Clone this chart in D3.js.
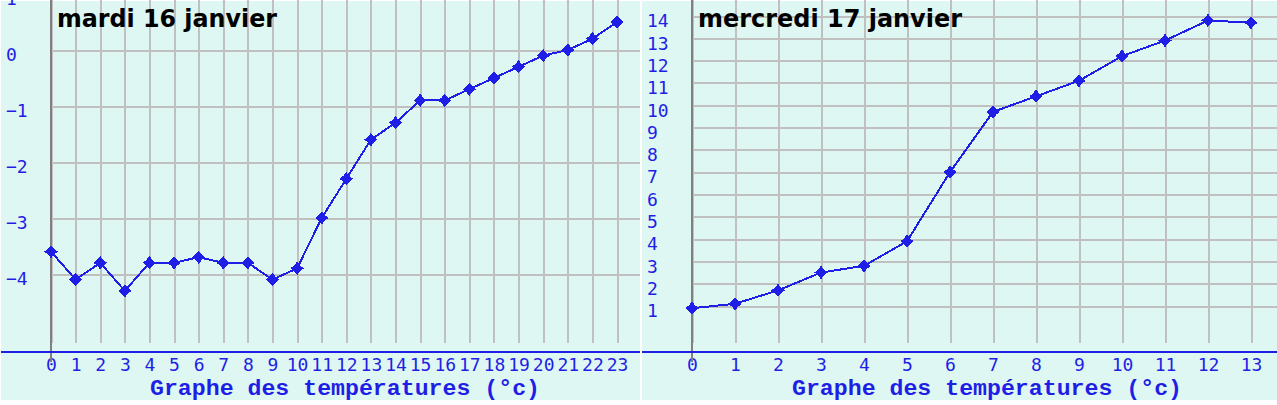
<!DOCTYPE html>
<html>
<head>
<meta charset="utf-8">
<script src="https://cdn.jsdelivr.net/npm/d3@7"></script>
<style>
  body { margin: 0; background: #fff; }
  svg { display: block; }
  .tick text { font-family: "DejaVu Sans Mono", monospace; font-size: 18px; fill: #1e1ee6; }
  .jour { font-family: "DejaVu Sans", sans-serif; font-weight: bold; font-size: 24px; fill: #000; }
  .legende { font-family: "Liberation Mono", monospace; font-weight: bold; font-size: 22px; fill: #1e1ee6; }
</style>
</head>
<body>
<svg id="chart" width="1277" height="405"></svg>
<script>
// mardi 16 janvier
var heuresMardi = [0, 1, 2, 3, 4, 5, 6, 7, 8, 9, 10, 11, 12, 13, 14, 15, 16, 17, 18, 19, 20, 21, 22, 23];
var tempMardi = [-3.6, -4.1, -3.8, -4.3, -3.8, -3.8, -3.7, -3.8, -3.8, -4.1, -3.9, -3.0,
                 -2.3, -1.6, -1.3, -0.9, -0.9, -0.7, -0.5, -0.3, -0.1, 0.0, 0.2, 0.5];
var ticksMardi = [1, 0, -1, -2, -3, -4];

// mercredi 17 janvier
var heuresMercredi = [0, 1, 2, 3, 4, 5, 6, 7, 8, 9, 10, 11, 12, 13];
var tempMercredi = [0.9, 1.1, 1.7, 2.5, 2.8, 3.9, 7.0, 9.7, 10.4, 11.1, 12.2, 12.9, 13.8, 13.7];
var ticksMercredi = [1, 2, 3, 4, 5, 6, 7, 8, 9, 10, 11, 12, 13, 14];

var titreAxe = "Graphe des températures (°c)";

var bleu = "#1e1ee6",
    grille = "#c0c0c0",
    fond = "#dff7f2";

var svg = d3.select("#chart");

// petite etoile a 4 branches pour les points
var symbolEtoile = {
  draw: function (context, size) {
    var r = Math.sqrt(size) / 2, i = r * 0.45;
    context.moveTo(0, -r);
    context.lineTo(i, -i);
    context.lineTo(r, 0);
    context.lineTo(i, i);
    context.lineTo(0, r);
    context.lineTo(-i, i);
    context.lineTo(-r, 0);
    context.lineTo(-i, -i);
    context.closePath();
  }
};

renderPanel({
  left: 1, right: 640,
  x0: 51, x1: 617,
  yDomain: [-4, 0], yRange: [274, 50],
  hours: heuresMardi, temps: tempMardi, ticks: ticksMardi,
  jour: "mardi 16 janvier", jourX: 57, jourW: 220,
  legendeX: 150
});

renderPanel({
  left: 642, right: 1277,
  x0: 692, x1: 1251,
  yDomain: [1, 14], yRange: [306, 16],
  hours: heuresMercredi, temps: tempMercredi, ticks: ticksMercredi,
  jour: "mercredi 17 janvier", jourX: 698, jourW: 264,
  legendeX: 792
});

function renderPanel(o) {
  var g = svg.append("g");
  var bottom = 343;

  var x = d3.scaleLinear()
      .domain(d3.extent(o.hours))
      .range([o.x0, o.x1]);

  var y = d3.scaleLinear()
      .domain(o.yDomain)
      .range(o.yRange);

  g.append("rect")
      .attr("x", o.left)
      .attr("y", 1)
      .attr("width", o.right - o.left)
      .attr("height", 399)
      .attr("fill", fond);

  // grille verticale + heures
  var ax = g.append("g")
      .attr("transform", "translate(0," + bottom + ")")
      .call(d3.axisBottom(x)
        .tickValues(o.hours)
        .tickSize(-bottom)
        .tickPadding(15)
        .tickFormat(d3.format("d")));
  ax.select(".domain").remove();
  ax.selectAll(".tick line")
      .attr("stroke", grille)
      .attr("stroke-width", 2)
      .attr("shape-rendering", "crispEdges");
  ax.selectAll(".tick text").attr("dy", "0.74em");

  // grille horizontale + temperatures
  var ay = g.append("g")
      .attr("transform", "translate(" + o.x0 + ",0)")
      .call(d3.axisLeft(y)
        .tickValues(o.ticks)
        .tickSize(-(o.right - o.x0))
        .tickFormat(d3.format("d")));
  ay.select(".domain").remove();
  ay.selectAll(".tick line")
      .attr("stroke", grille)
      .attr("stroke-width", 2)
      .attr("shape-rendering", "crispEdges");
  ay.selectAll(".tick text")
      .attr("text-anchor", "start")
      .attr("x", (o.left + 5) - o.x0)
      .attr("dy", "0.6em");

  g.append("text")
      .attr("class", "jour")
      .attr("x", o.jourX)
      .attr("y", 27)
      .attr("textLength", o.jourW)
      .attr("lengthAdjust", "spacingAndGlyphs")
      .text(o.jour);

  // axe vertical gris
  g.append("line")
      .attr("x1", o.x0).attr("x2", o.x0)
      .attr("y1", 0).attr("y2", 362)
      .attr("stroke", "#808080")
      .attr("stroke-width", 2)
      .attr("shape-rendering", "crispEdges");

  // ligne de base bleue
  g.append("line")
      .attr("x1", o.left).attr("x2", o.right)
      .attr("y1", 352).attr("y2", 352)
      .attr("stroke", bleu)
      .attr("stroke-width", 2)
      .attr("shape-rendering", "crispEdges");

  var line = d3.line()
      .x(function (d, i) { return x(o.hours[i]); })
      .y(function (d) { return y(d); });

  g.append("path")
      .datum(o.temps)
      .attr("d", line)
      .attr("fill", "none")
      .attr("stroke", bleu)
      .attr("stroke-width", 2)
      .attr("shape-rendering", "crispEdges");

  g.selectAll(".pt")
      .data(o.temps)
    .enter().append("path")
      .attr("class", "pt")
      .attr("transform", function (d, i) { return "translate(" + x(o.hours[i]) + "," + y(d) + ")"; })
      .attr("d", d3.symbol(symbolEtoile, 120))
      .attr("fill", bleu)
      .attr("stroke", bleu)
      .attr("stroke-width", 1.5)
      .attr("shape-rendering", "crispEdges");

  g.append("text")
      .attr("class", "legende")
      .attr("x", o.legendeX)
      .attr("y", 395)
      .attr("textLength", 390)
      .attr("lengthAdjust", "spacingAndGlyphs")
      .text(titreAxe);
}
</script>
</body>
</html>
